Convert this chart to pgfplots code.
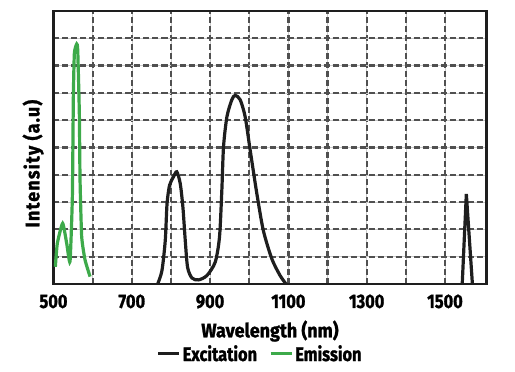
\documentclass[border=0pt]{standalone}
\usepackage{fontspec}
\setmainfont{Fira Sans}[FakeStretch=0.92, BoldFeatures={FakeBold=1.3}]
\newfontfamily\tickfont{Fira Sans}[FakeStretch=0.84, BoldFeatures={FakeBold=1.3}]
\newfontfamily\ylfont{Fira Sans}[FakeStretch=0.92, LetterSpace=6, BoldFeatures={FakeBold=1.3}]
\usepackage{pgfplots}
\pgfplotsset{compat=1.18}
\definecolor{exc}{HTML}{1E1E1E}
\definecolor{emi}{HTML}{3DAA4A}
\definecolor{gridd}{HTML}{505050}
\newcommand{\lf}{\fontsize{19.5}{22}\selectfont\bfseries}
\newcommand{\tf}{\tickfont\fontsize{19.5}{22}\selectfont\bfseries}
\newcommand{\yf}{\ylfont\fontsize{19.5}{22}\selectfont\bfseries}
\begin{document}
\begin{tikzpicture}
\useasboundingbox (-53.5pt,-88pt) rectangle (461.5pt,284pt);
\begin{axis}[
  at={(0pt,0pt)}, anchor=south west,
  scale only axis, width=433pt, height=273pt,
  xmin=500, xmax=1606, ymin=0, ymax=10,
  xtick={500,600,...,1500},
  xticklabels={500,,700,,900,,1100,,1300,,1500},
  ytick={1,...,9}, yticklabels={},
  minor xtick={600,700,...,1500}, minor ytick={1,...,9},
  major tick length=0pt, minor tick length=0pt,
  grid=both,
  minor grid style={gray!40, line width=0.5pt},
  major grid style={gridd, line width=2.2pt, dash pattern=on 6pt off 3pt},
  axis line style={exc, line width=2.5pt},
  xticklabel style={font=\tf, yshift=-7pt},
  xlabel={Wavelength (nm)},
  xlabel style={font=\lf, at={(axis description cs:0.5,0)}, anchor=north, yshift=-33pt},
  ylabel={Intensity (a.u)},
  ylabel style={font=\yf, at={(axis description cs:-0.047,0.441)}, anchor=center},
  legend style={at={(axis description cs:0.477,0)}, anchor=north, yshift=-57pt,
    draw=none, fill=none, legend columns=2, font=\tf,
    /tikz/every even column/.append style={column sep=10pt}},
  legend image code/.code={\draw[#1, line width=3.2pt] (0pt,0pt) -- (21pt,0pt);},
]
\addplot[exc, line width=3.2pt, smooth, tension=0.45] coordinates {
(766,0.0) (777,0.49) (785.5,1.6) (790,2.94) (796.5,3.62) (806.7,3.93) (815,4.11)
(823.7,3.68) (830.5,2.82) (836.5,1.6) (842.5,0.61) (853.6,0.22) (870.4,0.15)
(891.8,0.31) (913,0.80) (924,1.72) (930,3.44) (934.3,5.03) (943,6.13) (955.6,6.75)
(964,6.91) (976.8,6.75) (989.5,6.13) (1002.3,4.91) (1019.4,3.31) (1036,1.96)
(1057.7,0.92) (1078.8,0.31) (1094,0.0)
};
\addlegendentry{Excitation}
\addplot[emi, line width=3.2pt, smooth, tension=0.3] coordinates {
(504.7,0.63) (509.8,1.49) (523.4,2.22) (533.7,1.49) (542.2,0.82) (548.2,3.2)
(550.7,6.86) (553.3,8.45) (559.3,8.79) (561.9,8.57) (566,6.25) (567.8,3.81)
(572,1.73) (580.6,0.88) (593.4,0.27)
};
\addlegendentry{Emission}
\addplot[exc, line width=3.2pt, forget plot] coordinates {
(1544,0) (1554.5,3.3) (1570,0)
};
\end{axis}
\end{tikzpicture}
\end{document}
